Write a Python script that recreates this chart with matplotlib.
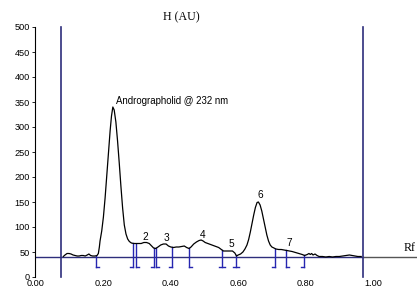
import numpy as np
import matplotlib
matplotlib.use("Agg")
import matplotlib.pyplot as plt

# ---- data ----
rf = [0.081, 0.086, 0.092, 0.098, 0.104, 0.110, 0.116, 0.122, 0.128, 0.134,
      0.140, 0.146, 0.152, 0.157, 0.162, 0.168, 0.175, 0.181, 0.185, 0.188,
      0.190, 0.195, 0.200, 0.205, 0.210, 0.215, 0.220, 0.224, 0.228, 0.232,
      0.237, 0.242, 0.247, 0.252, 0.257, 0.262, 0.267, 0.272, 0.277, 0.283,
      0.290, 0.297, 0.305, 0.312, 0.320, 0.328, 0.336, 0.343, 0.349, 0.355,
      0.362, 0.370, 0.378, 0.386, 0.393, 0.400, 0.408, 0.416, 0.424, 0.432,
      0.440, 0.447, 0.454, 0.460, 0.468, 0.476, 0.484, 0.490, 0.496, 0.502,
      0.510, 0.518, 0.526, 0.534, 0.542, 0.550, 0.556, 0.565, 0.575, 0.583,
      0.590, 0.595, 0.600, 0.607, 0.614, 0.620, 0.626, 0.631, 0.636, 0.641,
      0.646, 0.651, 0.656, 0.660, 0.665, 0.670, 0.675, 0.680, 0.685, 0.690,
      0.695, 0.700, 0.706, 0.712, 0.720, 0.728, 0.736, 0.744, 0.752, 0.760,
      0.770, 0.780, 0.790, 0.797, 0.805, 0.810, 0.814, 0.818, 0.822, 0.828,
      0.834, 0.840, 0.850, 0.860, 0.870, 0.880, 0.890, 0.900, 0.910, 0.920,
      0.930, 0.938, 0.945, 0.955, 0.965]
h = [41, 44, 47, 47, 46, 44, 43, 42, 42, 43,
     43, 42, 44, 46, 43, 42, 42, 43, 47, 60,
     72, 92, 120, 158, 203, 250, 293, 322, 340, 334,
     310, 272, 228, 181, 138, 104, 86, 76, 71, 68,
     67, 67, 67, 67, 69, 69, 67, 62, 58, 57,
     60, 64, 66, 66, 62, 60, 59, 60, 60, 61,
     62, 59, 57, 60, 66, 70, 73, 74, 72, 69,
     67, 65, 63, 61, 59, 55, 52, 52, 52, 52,
     48, 42, 44, 46, 50, 56, 64, 75, 90, 107,
     124, 139, 149, 150, 144, 132, 116, 99, 84, 72,
     64, 60, 58, 56, 55, 55, 54, 53, 52, 51,
     49, 47, 45, 43, 45, 47, 45, 47, 44, 46,
     43, 41, 41, 40, 41, 40, 41, 41, 42, 43,
     44, 43, 42, 41, 41]

baseline = 41
start_rf = 0.074
front_rf = 0.969

bracket_rf = [0.178, 0.287, 0.296, 0.349, 0.357, 0.404, 0.453, 0.553, 0.594, 0.709, 0.742, 0.795]
bracket_kind = ['[', ']', '[', ']', '[', ']', '[', 'I', 'I', ']', '[', ']']

peak_names = ["2", "3", "4", "5", "6", "7"]
peak_rf = [0.325, 0.388, 0.493, 0.579, 0.665, 0.751]
peak_lab_h = [80, 78, 84, 66, 164, 68]

main_label = "Andrographolid @ 232 nm"

xticks = [0.0, 0.2, 0.4, 0.6, 0.8, 1.0]
xtick_labels = ["0.00", "0.20", "0.40", "0.60", "0.80", "1.00"]
yticks = [0, 50, 100, 150, 200, 250, 300, 350, 400, 450, 500]

# ---- figure ----
navy = "#2e2e7c"
blue = "#2626b0"
sans = ["Liberation Sans", "DejaVu Sans"]
serif = ["Liberation Serif", "DejaVu Serif"]

fig = plt.figure(figsize=(4.17, 2.89), dpi=100)
W, H = 417, 289
ax = fig.add_axes([35 / W, (H - 277) / H, 1 - 35 / W, 250 / H])
ax.set_xlim(-0.003, 1.1306)
ax.set_ylim(0, 500)

for s in ("top", "right", "bottom"):
    ax.spines[s].set_visible(False)
ax.spines["left"].set_linewidth(0.8)
ax.spines["left"].set_color("black")

ax.set_yticks(yticks)
ax.set_yticklabels([str(v) for v in yticks], fontsize=6.6, family=sans)
ax.set_xticks(xticks)
ax.set_xticklabels(xtick_labels, fontsize=6.6, family=sans)
ax.tick_params(axis="y", length=2.5, width=0.6, pad=1)
ax.tick_params(axis="x", length=0, pad=1.5)

# baseline
ax.plot([-0.003, front_rf], [baseline, baseline], color=navy, lw=1.0, zorder=2)
ax.plot([front_rf, 1.1306], [baseline, baseline], color="#555555", lw=1.0, zorder=2)
# start / front lines
ax.plot([start_rf, start_rf], [0, 500], color=navy, lw=1.2, zorder=2, clip_on=False)
ax.plot([front_rf, front_rf], [0, 500], color=navy, lw=1.2, zorder=2, clip_on=False)

# curve
ax.plot(rf, h, color="black", lw=0.9, zorder=4)

# integration brackets
tw = 0.009
for xb, kind in zip(bracket_rf, bracket_kind):
    top = np.interp(xb, rf, h)
    ax.plot([xb, xb], [20, top], color=blue, lw=1.0, zorder=3)
    if kind == '[':
        ax.plot([xb, xb + tw], [20, 20], color=blue, lw=1.0, zorder=3)
    elif kind == ']':
        ax.plot([xb - tw, xb], [20, 20], color=blue, lw=1.0, zorder=3)
    else:
        ax.plot([xb - tw, xb + tw], [20, 20], color=blue, lw=1.0, zorder=3)

# labels
ax.text(0.238, 353, main_label, fontsize=6.9, family=sans, ha="left", va="center")
for name, xp, yp in zip(peak_names, peak_rf, peak_lab_h):
    ax.text(xp, yp, name, fontsize=7.3, family=sans, ha="center", va="center")

fig.text(181 / W, 1 - 17 / H, "H (AU)", fontsize=8.6, family=serif, ha="center", va="center")
fig.text(404 / W, 1 - 248 / H, "Rf", fontsize=8.6, family=serif, ha="left", va="center")

fig.savefig("out.png", dpi=100)
